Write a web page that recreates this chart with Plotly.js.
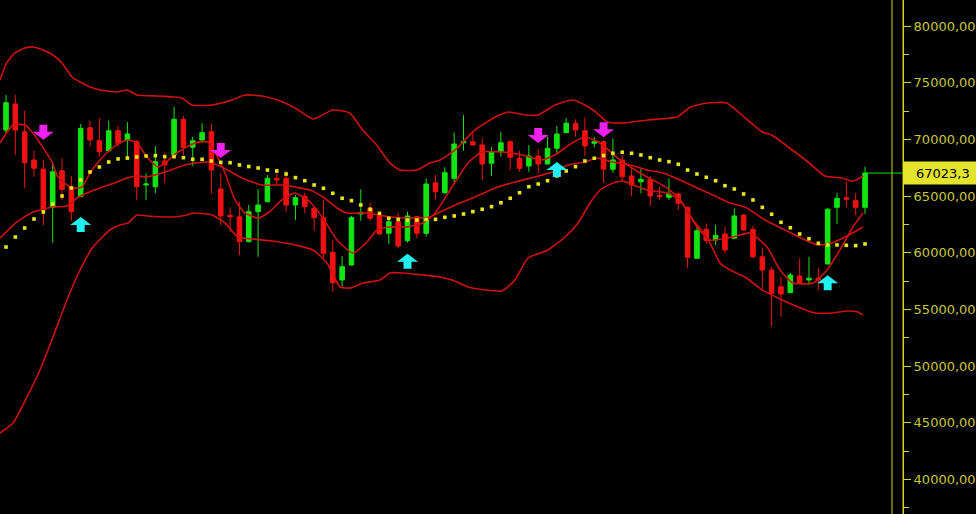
<!DOCTYPE html>
<html>
<head>
<meta charset="utf-8">
<script src="https://cdn.plot.ly/plotly-3.0.1.min.js"></script>
<style>
html,body{margin:0;padding:0;background:#000;}
#chart{width:976px;height:514px;}
</style>
</head>
<body>
<div id="chart"></div>
<script>
// ---- OHLC data (one candle per bar, bar index 0..92) ----
const open = [70820,73120,70670,68180,67380,64000,67230,65730,64940,71030,
69880,69000,70760,69940,69790,65970,65820,68090,68620,71770,
69300,69940,70670,65620,63300,63170,60970,63620,64500,66560,
66560,64210,65000,63920,63090,60030,57590,58910,63410,63920,
63240,61710,62730,61060,63170,61710,66170,65290,66560,69700,
69790,69500,67890,68910,69790,68330,67650,68530,67820,69210,
70590,71420,70760,69650,69790,67360,68180,66770,66260,66470,
65060,64880,65180,64000,59500,62060,61120,61650,61270,63320,
62060,59640,58470,57000,56470,57940,57590,57740,59000,64000,
64850,64590,64000];
const high = [73910,73910,72530,69000,68180,67890,68330,66770,71350,71640,
71860,71640,71180,71530,69940,67000,69410,68820,72880,72060,
70230,71420,71350,67000,64000,64500,64210,65590,66850,67360,
67230,65090,65290,64000,64650,61120,59710,63240,65590,64410,
63320,63170,63530,63620,63240,66560,66850,67530,70590,72150,
70670,70090,69300,70670,69940,69000,69500,69120,70230,71180,
71860,71770,71940,70230,69940,70090,68620,67440,67360,66770,
65820,66560,65290,64060,62440,62590,62440,62290,63920,63410,
62350,60470,58710,57880,58230,59500,59640,58620,63920,65290,
66260,65290,67590];
const low = [70530,68620,65680,66700,62440,60880,64650,62820,64900,69350,
68470,68910,69350,68180,64650,64650,65240,66120,68470,68620,
67650,69700,65180,62440,61850,59790,60880,59640,64450,66060,
63620,62880,63470,61910,59350,56560,57000,58880,62820,62820,
61560,60770,60390,60880,61270,61410,64710,65150,66170,69000,
69480,66410,66770,68470,67290,67140,67140,67000,67800,68710,
70560,70230,68530,69300,66170,67060,66260,65000,65240,64120,
64650,64650,63770,58620,59480,60770,60680,59940,61180,61980,
59500,56770,53470,54350,56440,57330,57150,56710,58980,62530,
64000,63320,63410];
const close = [73230,70820,67940,67440,63770,67140,65590,63620,70970,69940,
68910,70760,69650,70470,65820,66060,68030,67740,71770,69300,
69880,70590,67290,63240,63170,60970,63620,64210,66560,66410,
64210,64850,64060,63090,59940,57350,58760,63090,63530,63030,
61650,62730,60590,63240,61710,66060,65380,67060,69590,69790,
69500,67820,68910,69700,68420,67440,68530,67820,69210,70470,
71420,70820,69410,69790,67360,68180,66700,65970,66470,65000,
64940,65180,64360,59590,61940,61060,61530,60240,63240,62000,
59640,58470,56420,56350,58030,57350,57740,57590,63830,64800,
64710,64000,67023.3];

// ---- slow moving average (yellow dots), one value per bar ----
const slowMA = [60500,61380,62180,62970,63590,64290,65000,65710,66410,67120,
67560,68000,68270,68350,68440,68530,68560,68470,68470,68380,
68240,68240,68090,67970,67940,67740,67600,67470,67290,67210,
66940,66620,66350,65970,65680,65240,64800,64590,64210,63830,
63470,63030,62930,62880,62880,62930,62940,63120,63240,63410,
63620,63830,64060,64410,64800,65290,65820,66060,66350,66770,
67210,67590,68090,68330,68570,68770,68860,68770,68620,68380,
68180,68030,67800,67290,66940,66650,66350,65910,65620,65180,
64650,64000,63390,62680,62200,61650,61230,60830,60680,60680,
60650,60620,60770];

// ---- Bollinger upper band (bar position, value) ----
const upX = [-0.64,0.07,0.96,2.03,2.89,3.96,5.03,6.0,7.07,7.93,9.0,10.07,11.9,12.96,14.03,16.17,17.9,18.85,19.92,22.06,24.2,25.6,27.4,29.1,30.95,32.9,35.0,36.8,38.2,39.7,41.1,42.2,44.0,45.4,46.5,48.1,50.2,52.4,53.8,55.6,57.0,58.8,60.6,62.0,63.3,64.4,66.1,68.7,71.9,73.3,75.1,77.2,78.8,81.0,82.0,84.2,85.9,87.7,89.5,90.7,91.8];
const upY = [75240,76740,77620,78060,78150,77880,77440,76740,75500,75060,74620,74350,74180,74350,73910,73820,73740,73650,73030,73030,73470,73910,73820,73470,72770,71790,72590,72320,70820,69500,67910,67290,67290,67910,68180,69060,70820,71970,72410,72150,72150,73030,73470,73030,72320,71530,71440,71710,71970,72850,73210,73210,72150,70650,70380,69060,68000,66770,66590,66320,66770];

// ---- Bollinger lower band ----
const loX = [-0.64,0.75,2.25,3.64,5.03,6.53,7.93,9.32,11.14,12.21,13.07,14.03,15.1,17.89,19.39,20.03,22.06,23.45,24.85,26.35,28.49,29.88,30.95,32.88,34.38,35.77,36.84,38.24,40.06,41.13,42.52,44.66,46.48,47.77,49.48,51.3,53.12,54.51,55.91,58.05,59.87,61.26,62.55,63.62,65.01,66.08,67.15,68.65,70.79,72.19,73.58,75.08,76.47,77.54,79.15,80.97,82.68,84.82,86.64,88.46,90.18,91.25,91.79];
const loY = [44090,44970,47270,49650,52560,55820,58470,60500,62000,62440,62620,63320,63240,63150,63320,63500,63320,62620,61380,61210,61030,60850,60680,60240,59090,56970,56880,57320,57590,58210,58210,58030,57850,57590,56970,56710,56620,57590,59530,60240,61380,62620,64380,65530,66150,66320,65970,65530,65270,64650,62880,61380,59090,58470,57850,56710,56000,55210,54680,54680,54850,54770,54500];

// ---- middle band ----
const midX = [-0.64,1.18,2.89,5.03,6.53,7.6,8.68,10.07,11.89,12.96,14.03,15.1,17.03,19.17,21.63,23.13,25.28,27.42,29.88,30.95,32.56,33.95,35.45,36.52,38.66,41.13,43.27,45.41,46.48,48.09,50.23,52.37,54.51,56.66,58.48,60.19,62.01,63.3,65.01,66.83,68.65,70.37,72.19,74.0,75.72,77.54,79.15,81.29,83.43,85.57,86.97,88.46,89.86,91.79];
const midY = [61290,62710,63590,64030,64120,64820,65270,65710,66240,66590,66770,66680,67120,67740,68000,67560,66590,65970,65970,65790,65530,64910,63940,63500,63500,63150,63060,63150,63590,64210,64910,65710,66240,66680,67120,67740,68000,68350,68000,67740,67290,67030,66410,65710,65090,64380,64030,62880,62000,61120,60680,60850,61380,62270];

// ---- fast moving average ----
const fastX = [-0.64,0.75,2.03,2.89,4.93,5.57,7.07,8.14,9.0,10.07,11.14,12.21,13.07,14.03,15.1,16.28,17.03,18.42,20.24,21.63,22.38,23.45,24.53,25.6,26.99,28.06,29.56,30.95,32.56,33.95,35.45,37.16,38.66,39.73,41.13,42.95,44.66,45.95,47.77,49.48,50.98,53.12,55.27,57.41,58.8,60.62,62.01,63.62,65.76,67.9,70.79,72.19,74.0,75.4,77.86,79.68,81.5,82.9,84.29,86.43,87.93,89.32,90.71,91.79];
const fastY = [69680,71270,71270,70560,68000,66680,65710,65790,67030,68180,69060,69680,69940,69680,68440,67560,67910,68880,69680,69770,68880,67030,64650,63500,63060,63500,64650,65270,64470,63030,61120,59970,60940,62000,62270,62270,62620,63500,65790,67910,68880,68880,68620,68180,68620,69680,70210,69680,68180,67030,65710,64650,62270,61120,61380,61740,60500,58470,57320,57320,58470,60240,62270,63500];

// ---- signals: sell (magenta down arrows) and buy (cyan up arrows) ----
const sellBar = [4, 23, 57, 64];
const sellLevel = [70670, 69060, 70380, 70890];
const buyBar = [8, 43, 59, 88];
const buyLevel = [62440, 59200, 67290, 57300];

// ---- y-axis ticks ----
const yTickStep = 5000;
const yMinorStep = 2500;

// ================= drawing =================
const W = 976;
const bars = open.map((_, i) => i);
const xRange = [-0.6426, 94.89];
const yRange = [36941, 82294];
const plotRight = 892 / W;
const axisPos = 903 / W;
const AXIS_COL = '#d4d41e';
const BAND_COL = '#d01010';
const lastClose = close[close.length - 1];
const lastBar = bars[bars.length - 1];
const barToPaper = i => plotRight * (i - xRange[0]) / (xRange[1] - xRange[0]);

function bandTrace(x, y) {
  return {type: 'scatter', mode: 'lines', x: x, y: y, hoverinfo: 'skip',
    line: {color: BAND_COL, width: 1.6, shape: 'spline', smoothing: 0.5}};
}

const traces = [
  bandTrace(upX, upY),
  bandTrace(loX, loY),
  bandTrace(midX, midY),
  bandTrace(fastX, fastY),
  {type: 'candlestick', x: bars, open: open, high: high, low: low, close: close,
    whiskerwidth: 0, hoverinfo: 'skip',
    increasing: {line: {color: '#12e612', width: 1}, fillcolor: '#12e612'},
    decreasing: {line: {color: '#f01212', width: 1}, fillcolor: '#f01212'}},
  {type: 'scatter', mode: 'markers', x: bars, y: slowMA, hoverinfo: 'skip',
    marker: {symbol: 'square', size: 3.6, color: '#e6e61e', line: {width: 0}}}
];

const downPath = 'M-4,7 L4,7 L4,0 L10.5,0 L0,-8 L-10.5,0 L-4,0 Z';
const upPath = 'M-4,-7 L4,-7 L4,0 L10.5,0 L0,8 L-10.5,0 L-4,0 Z';

const shapes = [];
sellBar.forEach((b, k) => shapes.push({type: 'path', xref: 'x', yref: 'y',
  xsizemode: 'pixel', ysizemode: 'pixel', xanchor: b, yanchor: sellLevel[k],
  path: downPath, fillcolor: '#f020f0', line: {width: 0}, layer: 'above'}));
buyBar.forEach((b, k) => shapes.push({type: 'path', xref: 'x', yref: 'y',
  xsizemode: 'pixel', ysizemode: 'pixel', xanchor: b, yanchor: buyLevel[k],
  path: upPath, fillcolor: '#20f0f0', line: {width: 0}, layer: 'above'}));
// plot-area right border and price-axis line
shapes.push({type: 'line', xref: 'paper', yref: 'paper', x0: plotRight, x1: plotRight,
  y0: 0, y1: 1, line: {color: AXIS_COL, width: 1}});
shapes.push({type: 'line', xref: 'paper', yref: 'paper', x0: axisPos, x1: axisPos,
  y0: 0, y1: 1, line: {color: AXIS_COL, width: 1}});
// last price line
shapes.push({type: 'line', xref: 'paper', yref: 'y', x0: barToPaper(lastBar), x1: axisPos,
  y0: lastClose, y1: lastClose, line: {color: '#10e010', width: 1}});
// last price box
shapes.push({type: 'rect', xref: 'paper', yref: 'y', ysizemode: 'pixel', yanchor: lastClose,
  x0: axisPos, x1: 1.02, y0: -11.5, y1: 11.5, fillcolor: '#e4e42c', line: {width: 0}});

const layout = {
  width: 976, height: 514,
  margin: {l: 0, r: 0, t: 0, b: 0, pad: 0},
  paper_bgcolor: '#000', plot_bgcolor: '#000',
  showlegend: false,
  separators: ',.',
  dragmode: false,
  xaxis: {domain: [0, plotRight], range: xRange, visible: false, showgrid: false,
    zeroline: false, rangeslider: {visible: false}, fixedrange: true},
  yaxis: {range: yRange, side: 'right', anchor: 'free', position: axisPos,
    showgrid: false, zeroline: false, showline: true, linecolor: AXIS_COL, linewidth: 1,
    ticks: 'outside', ticklen: 7, tickcolor: AXIS_COL, tickwidth: 1,
    tick0: 0, dtick: yTickStep, tickformat: '.2f',
    tickfont: {family: 'DejaVu Sans', size: 13, color: '#c6c63a'},
    minor: {dtick: yMinorStep, ticks: 'outside', ticklen: 5, tickcolor: AXIS_COL, showgrid: false},
    fixedrange: true},
  shapes: shapes,
  annotations: [{xref: 'paper', yref: 'y', x: 914 / W, y: lastClose, xanchor: 'left',
    yanchor: 'middle', showarrow: false, text: lastClose.toFixed(1).replace('.', ','),
    font: {family: 'DejaVu Sans', size: 13, color: '#000'}}]
};

Plotly.newPlot('chart', traces, layout, {displayModeBar: false, staticPlot: true});
</script>
</body>
</html>
